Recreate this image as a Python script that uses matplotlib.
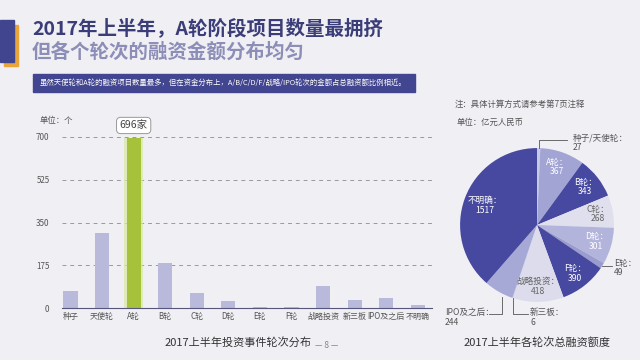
import numpy as np
import matplotlib
matplotlib.use("Agg")
import matplotlib.pyplot as plt
from matplotlib.patches import Rectangle

plt.rcParams['font.family'] = ['Noto Sans CJK SC', 'DejaVu Sans']

# bar chart data
rounds = ["种子", "天使轮", "A轮", "B轮", "C轮", "D轮", "E轮", "F轮",
          "战略投资", "新三板", "IPO及之后", "不明确"]
counts = [70, 307, 696, 184, 61, 30, 4, 4, 89, 34, 41, 14]
yticks = [0, 175, 350, 525, 700]

# pie data
pie_labels = ["种子/天使轮", "A轮", "B轮", "C轮", "D轮", "E轮", "F轮",
              "战略投资", "新三板", "IPO及之后", "不明确"]
pie_values = [27, 367, 343, 268, 301, 49, 390, 418, 6, 244, 1517]
pie_colors = ["#c9cae6", "#a2a4d4", "#46499f", "#dfdfee", "#b3b4dc", "#9a9ccf",
              "#46499f", "#dcdcec", "#c9cae6", "#a6a8d6", "#46499f"]

W, H = 640, 360
bg = "#efeff4"
fig = plt.figure(figsize=(6.4, 3.6), dpi=100, facecolor=bg)

def fx(x): return x / W
def fy(y): return 1 - y / H

# header decoration
fig.patches.append(Rectangle((fx(4), fy(66)), fx(14), 41 / H, transform=fig.transFigure,
                             color="#eaa43a", zorder=1))
fig.patches.append(Rectangle((0, fy(62)), fx(14), 42 / H, transform=fig.transFigure,
                             color="#41458f", zorder=2))
fig.text(fx(32), fy(28), "2017年上半年，A轮阶段项目数量最拥挤", fontsize=14,
         fontweight="bold", color="#3b3d78", va="center")
fig.text(fx(32), fy(52), "但各个轮次的融资金额分布均匀", fontsize=14,
         fontweight="bold", color="#8d8eb8", va="center")

# summary box
fig.patches.append(Rectangle((fx(33), fy(92)), fx(382), 18 / H, transform=fig.transFigure,
                             color="#42458f", zorder=2))
fig.text(fx(40), fy(83), "虽然天使轮和A轮的融资项目数量最多，但在资金分布上，A/B/C/D/F/战略/IPO轮次的金额占总融资额比例相近。",
         fontsize=5.3, color="white", va="center", zorder=3)

fig.text(fx(455), fy(104), "注：具体计算方式请参考第7页注释", fontsize=6, color="#555555", va="center")
fig.text(fx(457), fy(122), "单位：亿元人民币", fontsize=6, color="#555555", va="center")
fig.text(fx(40), fy(121), "单位：个", fontsize=6, color="#555555", va="center")

# ---------------- bar chart
ax = fig.add_axes([fx(62), fy(308), fx(432 - 62), (308 - 137) / H])
ax.set_facecolor("none")
x = np.arange(len(rounds))
cols = ["#b9b9dc"] * len(rounds)
cols[2] = "#a5c23a"
ax.bar(2, counts[2], width=0.62, color="#d8e8a0", alpha=0.7, zorder=1)
ax.bar(x, counts, width=0.45, color=cols, zorder=2)
ax.set_xlim(-0.27, 11.45)
ax.set_ylim(0, 700)
ax.set_yticks(yticks)
ax.set_yticklabels([str(v) for v in yticks])
for v in yticks[1:]:
    ax.axhline(v, color="#9a9a9a", lw=0.7, ls=(0, (4, 4)), zorder=0)
ax.set_xticks(x)
ax.set_xticklabels(rounds)
ax.tick_params(axis="both", length=0, labelsize=5.8, colors="#555555")
ax.tick_params(axis="y", pad=9)
ax.tick_params(axis="x", pad=3)
for s in ["top", "right", "left"]:
    ax.spines[s].set_visible(False)
ax.spines["bottom"].set_color("#55567a")
ax.spines["bottom"].set_linewidth(0.8)
ax.annotate(f"{counts[2]}家", xy=(2, counts[2]), xytext=(0, 9), textcoords="offset points",
            ha="center", va="center", fontsize=7.5, color="#444444",
            bbox=dict(boxstyle="round,pad=0.3,rounding_size=0.4", fc="white", ec="#999999", lw=0.7),
            annotation_clip=False)

fig.text(fx(238), fy(342), "2017上半年投资事件轮次分布", fontsize=8, color="#333333", ha="center", va="center")
fig.text(fx(327), fy(346), "— 8 —", fontsize=6, color="#888888", ha="center", va="center")
fig.text(fx(537), fy(342), "2017上半年各轮次总融资额度", fontsize=8, color="#333333", ha="center", va="center")

# ---------------- pie
pax = fig.add_axes([fx(437), fy(325), 200 / W, 200 / H])
pax.set_facecolor("none")
wedges, _ = pax.pie(pie_values, colors=pie_colors, startangle=90, counterclock=False,
                    wedgeprops=dict(lw=0))
pax.set_xlim(-1.3, 1.3)
pax.set_ylim(-1.3, 1.3)
pax.set_aspect("equal")
pax.axis("off")

dark = {"B轮", "F轮", "不明确", "A轮", "D轮"}
for w, lab, val in zip(wedges, pie_labels, pie_values):
    if lab in ("种子/天使轮", "E轮", "新三板", "IPO及之后"):
        continue
    mid = np.deg2rad((w.theta1 + w.theta2) / 2)
    r = 0.72 if lab == "不明确" else 0.8
    pax.text(r * np.cos(mid), r * np.sin(mid), f"{lab}：\n{val}", ha="center", va="center",
             fontsize=6.2, color="white" if lab in dark else "#666666", linespacing=1.1)

lkw = dict(color="#555555", lw=0.6)
# 种子/天使轮
w = wedges[0]
mid = np.deg2rad((w.theta1 + w.theta2) / 2)
ex, ey = np.cos(mid), np.sin(mid)
pax.plot([ex, ex, 0.39], [ey, 1.1, 1.1], clip_on=False, **lkw)
pax.text(0.46, 1.07, f"{pie_labels[0]}：\n{pie_values[0]}", fontsize=6.2, color="#555555",
         va="center", ha="left", linespacing=1.1)
# E轮
w = wedges[5]
mid = np.deg2rad((w.theta1 + w.theta2) / 2)
ex, ey = np.cos(mid), np.sin(mid)
pax.plot([ex, 0.97], [ey, ey], clip_on=False, **lkw)
pax.text(1.0, ey - 0.03, f"{pie_labels[5]}：\n{pie_values[5]}", fontsize=6.2, color="#555555",
         va="center", ha="left", linespacing=1.1)
# 新三板
w = wedges[8]
mid = np.deg2rad((w.theta1 + w.theta2) / 2)
ex, ey = np.cos(mid), np.sin(mid)
pax.plot([ex, ex, -0.12], [ey, -1.16, -1.16], clip_on=False, **lkw)
pax.text(-0.09, -1.2, f"{pie_labels[8]}：\n{pie_values[8]}", fontsize=6.2, color="#555555",
         va="center", ha="left", linespacing=1.1)
# IPO及之后
pax.plot([-0.45, -0.45, -0.62], [-0.93, -1.16, -1.16], clip_on=False, **lkw)
pax.text(-1.2, -1.2, f"{pie_labels[9]}：\n{pie_values[9]}", fontsize=6.2, color="#555555",
         va="center", ha="left", linespacing=1.1)

fig.savefig("out.png", dpi=100, facecolor=bg)
